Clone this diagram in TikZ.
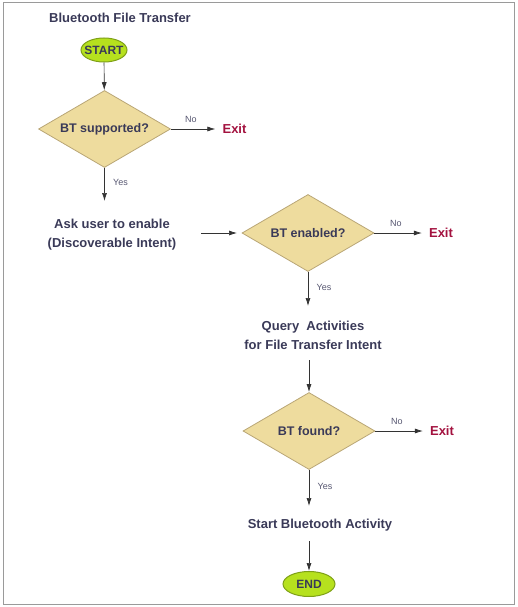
\documentclass[tikz,border=0pt]{standalone}
\usepackage{fontspec}
\setmainfont{Liberation Sans}
\usetikzlibrary{shapes.geometric,arrows.meta}
\definecolor{txt}{HTML}{3A3A58}
\definecolor{dfill}{HTML}{EEDC9E}
\definecolor{dline}{HTML}{B9A676}
\definecolor{efill}{HTML}{B6E11E}
\definecolor{eline}{HTML}{7FA018}
\definecolor{exitc}{HTML}{A3123F}
\definecolor{frame}{HTML}{9A9A9A}
\tikzset{
  dec/.style={diamond, draw=dline, fill=dfill, line width=0.8pt, minimum width=132pt, minimum height=77pt, inner sep=0pt, aspect=1.7, font=\bfseries\fontsize{12.5}{14}\selectfont, text=txt},
  term/.style={ellipse, draw=eline, fill=efill, line width=1pt, minimum width=46pt, minimum height=24pt, inner xsep=-8pt, inner ysep=-2pt, font=\bfseries\fontsize{12}{14}\selectfont, text=txt},
  stepbox/.style={align=center, font=\bfseries\fontsize{13}{19}\selectfont, text=txt, inner sep=0pt},
  exitbox/.style={font=\bfseries\fontsize{13}{15}\selectfont, text=exitc, inner sep=1pt},
  lbl/.style={font=\fontsize{9}{10}\selectfont, text=txt!85},
  arr/.style={-{Latex[length=8pt,width=5pt]}, line width=0.7pt, draw=black!80}
}
\begin{document}
\begin{tikzpicture}[x=1pt,y=-1pt]
\useasboundingbox (0,0) rectangle (517,607);
\draw[frame, line width=1pt] (3,3) rectangle (514,604);
\node[font=\bfseries\fontsize{13}{15}\selectfont, text=txt] (title) at (120,18) {Bluetooth File Transfer};
\node[term] (start) at (104,50) {START};
\node[dec] (d1) at (104.5,129) {BT supported?};
\node[exitbox] (x1) at (234.5,129) {Exit};
\node[stepbox] (ask) at (112,235) {Ask user to enable\\(Discoverable Intent)};
\node[dec] (d2) at (308,233) {BT enabled?};
\node[exitbox] (x2) at (441,233) {Exit};
\node[stepbox] (query) at (313,335.5) {Query\ \ Activities\\for File Transfer Intent};
\node[dec] (d3) at (309,431) {BT found?};
\node[exitbox] (x3) at (442,431) {Exit};
\node[stepbox] (sba) at (320,525) {Start Bluetooth Activity};
\node[term, minimum width=52pt, minimum height=25pt] (end) at (309,584) {END};
\coordinate (y1) at (104.5,201);
\coordinate (a0) at (201,233);
\coordinate (a1) at (237,233);
\coordinate (y2) at (308,306);
\coordinate (q0) at (309,360);
\coordinate (y3) at (309,506);
\coordinate (s0) at (309,541);
\draw[arr] (start) -- (d1);
\draw[arr] (d1) -- node[lbl, above=3pt, pos=0.45] {No} ([xshift=-6pt]x1.west);
\draw[arr] (d1.south) -- node[lbl, right=5pt, pos=0.45] {Yes} (y1);
\draw[arr] (a0) -- (a1);
\draw[arr] (d2) -- node[lbl, above=3pt, pos=0.45] {No} ([xshift=-6pt]x2.west);
\draw[arr] (d2.south) -- node[lbl, right=5pt, pos=0.45] {Yes} (y2);
\draw[arr] (q0) -- (d3.north);
\draw[arr] (d3) -- node[lbl, above=3pt, pos=0.45] {No} ([xshift=-6pt]x3.west);
\draw[arr] (d3.south) -- node[lbl, right=5pt, pos=0.45] {Yes} (y3);
\draw[arr] (s0) -- (end.north);
\end{tikzpicture}
\end{document}
